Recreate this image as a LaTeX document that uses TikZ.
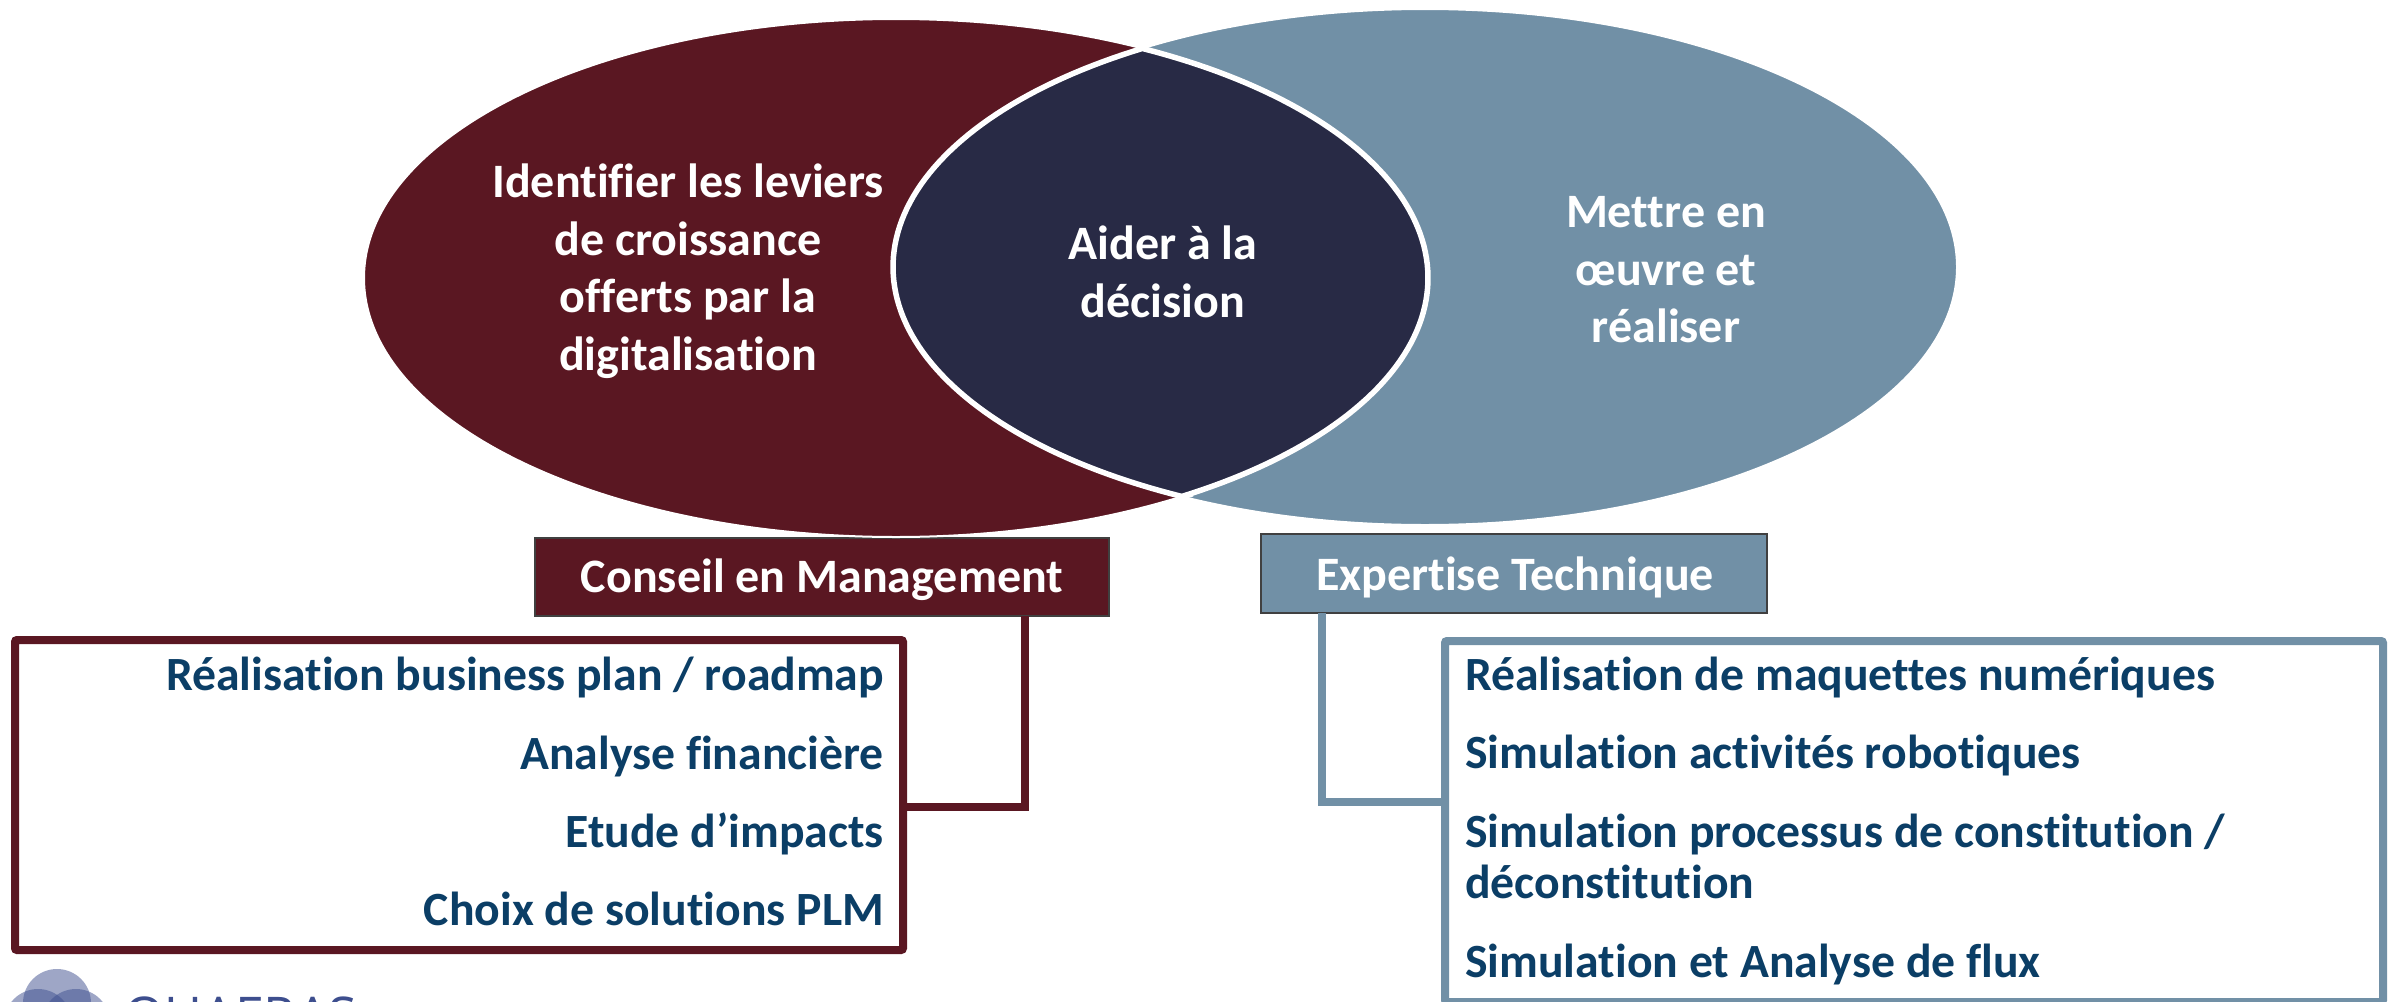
\documentclass[tikz,border=0pt]{standalone}
\usepackage{fontspec}
\setmainfont{Carlito}[Ligatures=NoCommon]
\newfontfamily\logofont{Open Sans}
\definecolor{wine}{HTML}{5A1722}
\definecolor{steel}{HTML}{7190A6}
\definecolor{navy}{HTML}{282A45}
\definecolor{listblue}{HTML}{0B3E66}
\definecolor{logoblue}{HTML}{3D4E8E}
\tikzset{
  px/.style={x=1pt,y=-1pt},
  bigtxt/.style={text=white,font=\fontsize{48}{57.5}\selectfont\bfseries,align=center,inner sep=0pt},
  headtxt/.style={text=white,font=\fontsize{48}{50}\selectfont\bfseries,inner sep=0pt,anchor=base},
  itemtxt/.style={text=listblue,font=\fontsize{47.7}{52}\selectfont\bfseries,inner sep=0pt},
  itemright/.style={itemtxt,anchor=base east},
  itemleft/.style={itemtxt,anchor=base west},
  headbox/.style={rectangle,draw=black!75,line width=2.5pt,inner sep=0pt,outer sep=0pt},
  listbox/.style={rectangle,line width=8pt,fill=white,inner sep=0pt,outer sep=0pt,rounded corners=2pt},
  link/.style={line width=8pt,line cap=butt,line join=miter},
  logocircle/.style={fill=logoblue,fill opacity=0.5},
}
\begin{document}
\begin{tikzpicture}[px]
\useasboundingbox (0,0) rectangle (2392,1001);
\clip (0,0) rectangle (2392,1001);
% connectors
\coordinate (wineelbow) at (1025,807);
\coordinate (steelelbow) at (1322,802);
% header boxes
\node[headbox,fill=wine,minimum width=574pt,minimum height=78pt] (conseilbox) at (822,577) {};
\node[headbox,fill=steel,minimum width=506pt,minimum height=79pt] (expertisebox) at (1514,573.5) {};
% list boxes
\node[listbox,draw=wine,minimum width=888pt,minimum height=310pt] (winelist) at (459,795) {};
\node[listbox,draw=steel,minimum width=938pt,minimum height=361pt] (steellist) at (1914,821.5) {};
\draw[link,draw=wine] (conseilbox.south -| wineelbow) -- (wineelbow) -- (winelist.east |- wineelbow);
\draw[link,draw=steel] (expertisebox.south -| steelelbow) -- (steelelbow) -- (steellist.west |- steelelbow);
% ellipses
\fill[wine,draw=white,line width=2pt] (896,278) ellipse [x radius=532,y radius=259];
\fill[steel,draw=white,line width=2pt] (1425,267) ellipse [x radius=532,y radius=258];
% overlap
\fill[navy,draw=white,line width=5.5pt,line join=miter]
  plot[domain=62.3:-57.55,samples=90] ({896+532*cos(\x)},{278-259*sin(\x)})
  -- plot[domain=242.8:122,samples=90] ({1425+532*cos(\x)},{267-258*sin(\x)}) -- cycle;
% ellipse texts
\node[bigtxt] (leviers) at (688,271) {Identifier les leviers\\de croissance\\offerts par la\\digitalisation};
\node[bigtxt] (aider) at (1163,272) {Aider à la\\décision};
\node[bigtxt] (mettre) at (1666,270) {Mettre en\\œuvre et\\réaliser};
% header texts
\node[headtxt] (conseiltxt) at (822,592) {Conseil en Management};
\node[headtxt] (expertisetxt) at (1515,590) {Expertise Technique};
% left list
\node[itemright] (l1) at (884,690.5) {Réalisation business plan / roadmap};
\node[itemright] (l2) at (884,769) {Analyse financière};
\node[itemright] (l3) at (884,847) {Etude d’impacts};
\node[itemright] (l4) at (884,925.5) {Choix de solutions PLM};
% right list
\node[itemleft] (r1) at (1465,690) {Réalisation de maquettes numériques};
\node[itemleft] (r2) at (1465,768.5) {Simulation activités robotiques};
\node[itemleft] (r3) at (1465,847) {Simulation processus de constitution /};
\node[itemleft] (r3b) at (1465,898.5) {déconstitution};
\node[itemleft] (r4) at (1465,977) {Simulation et Analyse de flux};
% logo, cut by the page edge
\fill[logocircle] (57,1003) circle [radius=34];
\fill[logocircle] (38,1023) circle [radius=34];
\fill[logocircle] (76,1023) circle [radius=34];
\node[text=logoblue,font=\logofont\fontsize{52}{54}\selectfont,inner sep=0pt,anchor=base west] (logotxt) at (124,1034) {QUAERAS};
\end{tikzpicture}
\end{document}
